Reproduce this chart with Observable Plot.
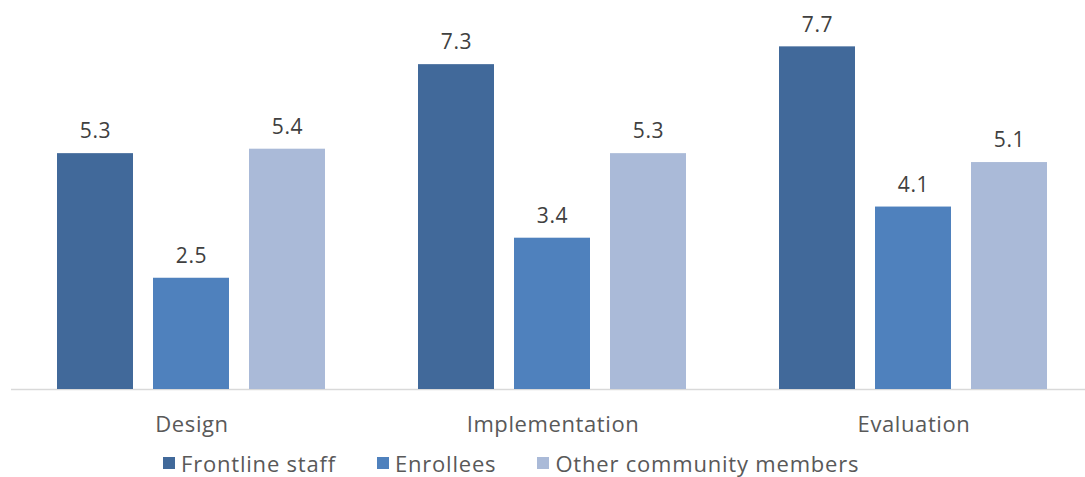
<!DOCTYPE html>
<html>
<head>
<meta charset="utf-8">
<script src="https://cdn.jsdelivr.net/npm/d3@7"></script>
<script src="https://cdn.jsdelivr.net/npm/@observablehq/plot@0.6"></script>
<style>
  html, body { margin: 0; padding: 0; background: #fff; }
  body { width: 1085px; height: 477px; overflow: hidden; font-family: "Open Sans", sans-serif; }
  #legend { display: flex; align-items: center; height: 36px; padding-left: 163px; font-size: 22px; letter-spacing: 0.8px; color: #595959; }
  .item { display: flex; align-items: center; margin-right: 41px; }
  .sw { width: 12px; height: 12px; margin-right: 6px; }
  svg text { letter-spacing: 0.6px; }
</style>
</head>
<body>
<div id="chart"></div>
<div id="legend"></div>
<script>
const groups = ["Design", "Implementation", "Evaluation"];
const series = ["Frontline staff", "Enrollees", "Other community members"];
const frontline = [5.3, 7.3, 7.7];
const enrollees = [2.5, 3.4, 4.1];
const other = [5.4, 5.3, 5.1];
const colors = ["#41699a", "#4f81bd", "#aabad8"];

const seriesValues = [frontline, enrollees, other];
const data = [];
groups.forEach((g, i) => series.forEach((s, j) => data.push({group: g, series: s, value: seriesValues[j][i]})));

const chart = Plot.plot({
  width: 1085,
  height: 445,
  marginLeft: 10,
  marginRight: -10,
  marginTop: 33,
  marginBottom: 56,
  style: {fontFamily: "'Open Sans', sans-serif", fontSize: "22px", color: "#595959", background: "#fff"},
  fx: {domain: groups, padding: 0, label: null, axis: "bottom", tickSize: 0, tickPadding: 27},
  x: {domain: series, axis: null, paddingInner: 0.208, paddingOuter: 0.484},
  y: {domain: [0, 8], axis: null},
  color: {domain: series, range: colors},
  marks: [
    Plot.ruleY([0], {stroke: "#d9d9d9", strokeWidth: 1.5}),
    Plot.barY(data, {fx: "group", x: "series", y: "value", fill: "series"}),
    Plot.text(data, {fx: "group", x: "series", y: "value", text: d => d.value.toFixed(1), dy: -22, fill: "#404040", fontSize: 21})
  ]
});
document.getElementById("chart").appendChild(chart);

const legend = document.getElementById("legend");
series.forEach((s, i) => {
  const it = document.createElement("div");
  it.className = "item";
  const sw = document.createElement("div");
  sw.className = "sw";
  sw.style.background = colors[i];
  const t = document.createElement("span");
  t.textContent = s;
  it.appendChild(sw);
  it.appendChild(t);
  legend.appendChild(it);
});
</script>
</body>
</html>
